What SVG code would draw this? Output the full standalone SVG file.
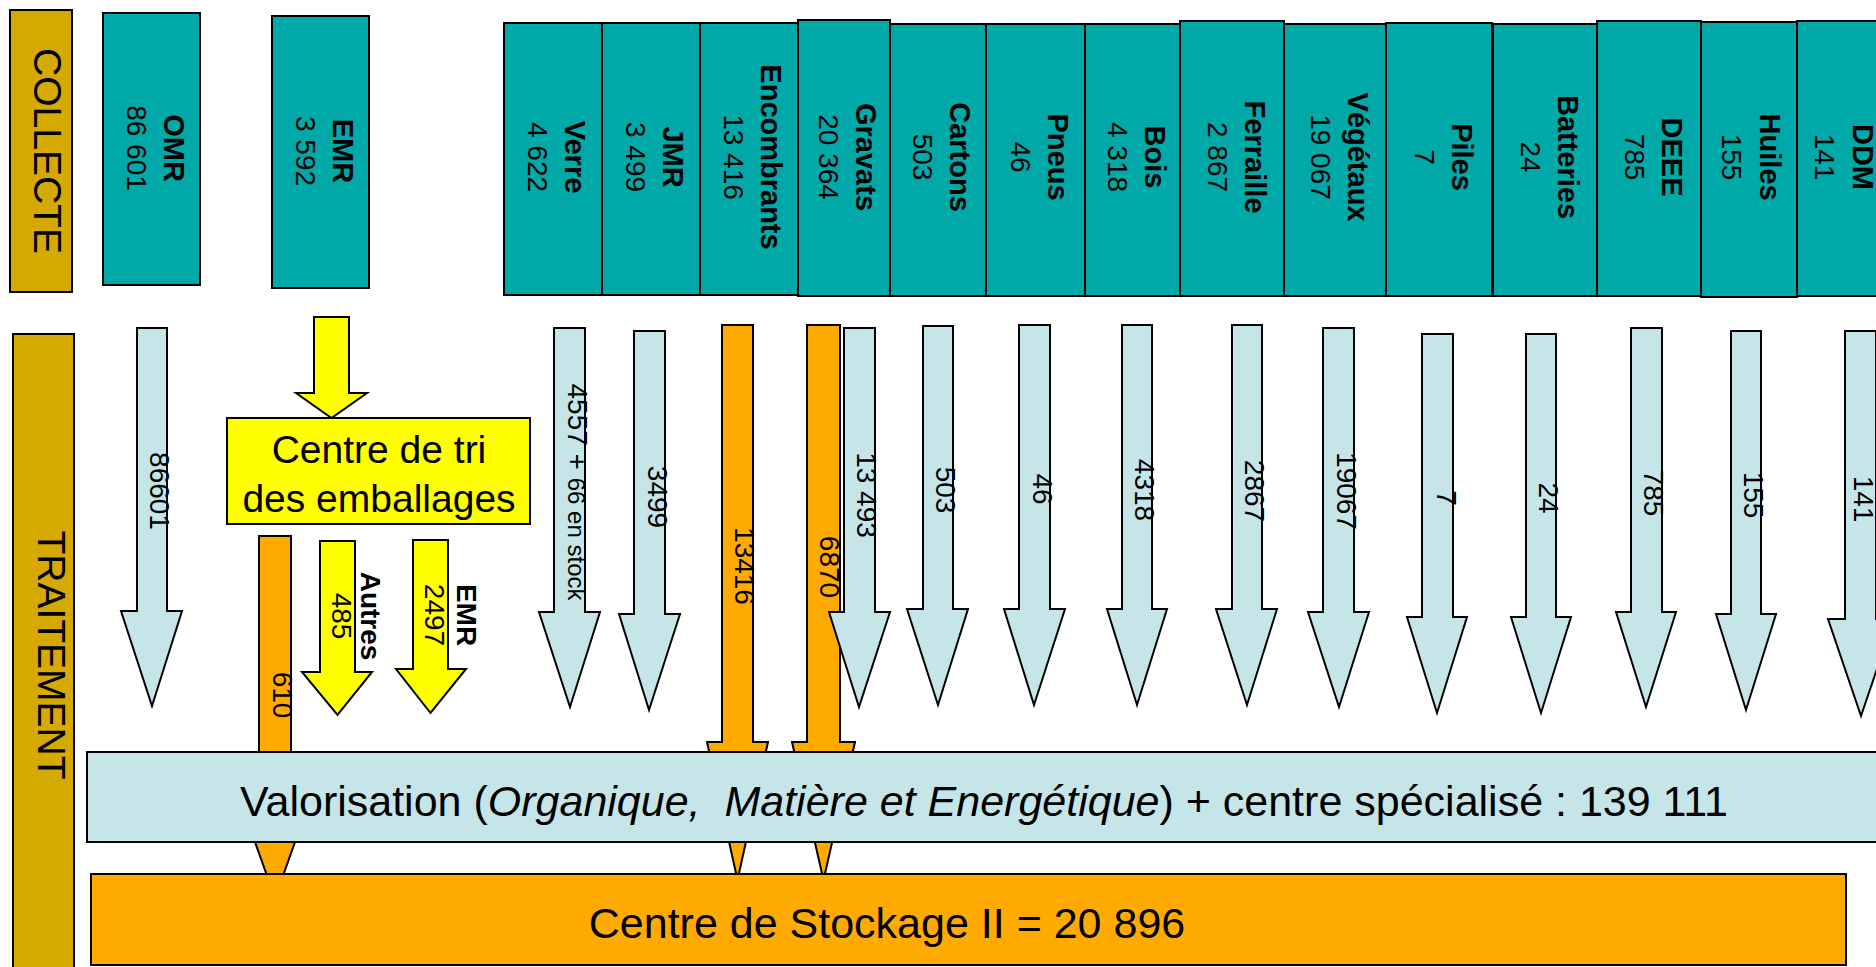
<svg xmlns="http://www.w3.org/2000/svg" width="1876" height="967" viewBox="0 0 1876 967">
<style>
text{font-family:"Liberation Sans",Arial,sans-serif;fill:#000}
.sec{fill:#D6A900;stroke:#000;stroke-width:2}
.col{fill:#00A8A8;stroke:#000;stroke-width:2}
.lb{fill:#C6E5E8;stroke:#000;stroke-width:2}
.or{fill:#FFAA00;stroke:#000;stroke-width:2}
.ye{fill:#FFFF00;stroke:#000;stroke-width:2}
.big{font-size:39px}
.lab{font-size:29px;font-weight:bold}
.val{font-size:28px}
.al{font-size:28px}
.alb{font-size:28px;font-weight:bold}
.main{font-size:43px;white-space:pre}
</style>
<rect width="1876" height="967" fill="#fff"/>

<g id="collecte">
<rect class="sec" x="10" y="10" width="62" height="282"/>
<text class="big" text-anchor="middle" transform="translate(34,151) rotate(90)">COLLECTE</text>
</g>
<g id="traitement">
<rect class="sec" x="13" y="334" width="61" height="640"/>
<text class="big" text-anchor="middle" transform="translate(38,655) rotate(90)">TRAITEMENT</text>
</g>

<g id="c-omr"><rect class="col" x="103" y="13" width="97" height="272"/>
<text class="lab" text-anchor="middle" transform="translate(164,148) rotate(90)">OMR</text>
<text class="val" text-anchor="middle" transform="translate(127,148) rotate(90)">86 601</text></g>
<g id="c-emr"><rect class="col" x="272" y="16" width="97" height="272"/>
<text class="lab" text-anchor="middle" transform="translate(333,151) rotate(90)">EMR</text>
<text class="val" text-anchor="middle" transform="translate(296,151) rotate(90)">3 592</text></g>
<g id="c-verre"><rect class="col" x="504" y="23" width="98" height="272"/>
<text class="lab" text-anchor="middle" transform="translate(565,157) rotate(90)">Verre</text>
<text class="val" text-anchor="middle" transform="translate(528,157) rotate(90)">4 622</text></g>
<g id="c-jmr"><rect class="col" x="602" y="23" width="98" height="272"/>
<text class="lab" text-anchor="middle" transform="translate(663,157) rotate(90)">JMR</text>
<text class="val" text-anchor="middle" transform="translate(626,157) rotate(90)">3 499</text></g>
<g id="c-encombrants"><rect class="col" x="700" y="23" width="98" height="272"/>
<text class="lab" text-anchor="middle" transform="translate(761,157) rotate(90)">Encombrants</text>
<text class="val" text-anchor="middle" transform="translate(724,157) rotate(90)">13 416</text></g>
<g id="c-gravats"><rect class="col" x="798" y="20" width="92" height="276"/>
<text class="lab" text-anchor="middle" transform="translate(856,157) rotate(90)">Gravats</text>
<text class="val" text-anchor="middle" transform="translate(819,157) rotate(90)">20 364</text></g>
<g id="c-cartons"><rect class="col" x="890" y="24" width="96" height="272"/>
<text class="lab" text-anchor="middle" transform="translate(950,157) rotate(90)">Cartons</text>
<text class="val" text-anchor="middle" transform="translate(913,157) rotate(90)">503</text></g>
<g id="c-pneus"><rect class="col" x="986" y="24" width="99" height="272"/>
<text class="lab" text-anchor="middle" transform="translate(1048,157) rotate(90)">Pneus</text>
<text class="val" text-anchor="middle" transform="translate(1011,157) rotate(90)">46</text></g>
<g id="c-bois"><rect class="col" x="1085" y="24" width="95" height="272"/>
<text class="lab" text-anchor="middle" transform="translate(1145,157) rotate(90)">Bois</text>
<text class="val" text-anchor="middle" transform="translate(1108,157) rotate(90)">4 318</text></g>
<g id="c-ferraille"><rect class="col" x="1180" y="21" width="104" height="275"/>
<text class="lab" text-anchor="middle" transform="translate(1245,157) rotate(90)">Ferraille</text>
<text class="val" text-anchor="middle" transform="translate(1208,157) rotate(90)">2 867</text></g>
<g id="c-vegetaux"><rect class="col" x="1284" y="24" width="102" height="272"/>
<text class="lab" text-anchor="middle" transform="translate(1348,157) rotate(90)">Végétaux</text>
<text class="val" text-anchor="middle" transform="translate(1311,157) rotate(90)">19 067</text></g>
<g id="c-piles"><rect class="col" x="1386" y="23" width="106" height="273"/>
<text class="lab" text-anchor="middle" transform="translate(1452,157) rotate(90)">Piles</text>
<text class="val" text-anchor="middle" transform="translate(1415,157) rotate(90)">7</text></g>
<g id="c-batteries"><rect class="col" x="1493" y="24" width="104" height="272"/>
<text class="lab" text-anchor="middle" transform="translate(1558,157) rotate(90)">Batteries</text>
<text class="val" text-anchor="middle" transform="translate(1521,157) rotate(90)">24</text></g>
<g id="c-deee"><rect class="col" x="1597" y="21" width="104" height="275"/>
<text class="lab" text-anchor="middle" transform="translate(1662,157) rotate(90)">DEEE</text>
<text class="val" text-anchor="middle" transform="translate(1625,157) rotate(90)">785</text></g>
<g id="c-huiles"><rect class="col" x="1701" y="22" width="96" height="275"/>
<text class="lab" text-anchor="middle" transform="translate(1760,157) rotate(90)">Huiles</text>
<text class="val" text-anchor="middle" transform="translate(1722,157) rotate(90)">155</text></g>
<g id="c-ddm"><rect class="col" x="1797" y="21" width="90" height="275"/>
<text class="lab" text-anchor="middle" transform="translate(1853,157) rotate(90)">DDM</text>
<text class="val" text-anchor="middle" transform="translate(1815,157) rotate(90)">141</text></g>

<g id="connectors">
<polygon class="or" points="259,536 291,536 291,814 305,814 275,898 245,814 259,814"/>
<polygon class="or" points="722,325 753,325 753,742 768,742 737.5,880 707,742 722,742"/>
<polygon class="or" points="807,325 840,325 840,742 855,742 823.5,880 792,742 807,742"/>
<polygon class="ye" points="314,317 349,317 349,393 367,393 331.5,418 296,393 314,393"/>
<polygon class="ye" points="320,541 355,541 355,672 372,672 337.5,715 302,672 320,672"/>
<polygon class="ye" points="413,540 448,540 448,669 466,669 430.5,713 396,669 413,669"/>
<polygon class="lb" points="137,328 167,328 167,611 182,611 152,706 121,611 137,611"/>
<polygon class="lb" points="554,328 585,328 585,612 600,612 570,707 539,612 554,612"/>
<polygon class="lb" points="634,331 665,331 665,614 680,614 649,710 619,614 634,614"/>
<polygon class="lb" points="844,328 875,328 875,612 890,612 859,707 829,612 844,612"/>
<polygon class="lb" points="923,326 953,326 953,609 968,609 938,705 907,609 923,609"/>
<polygon class="lb" points="1019,325 1050,325 1050,609 1065,609 1034,705 1004,609 1019,609"/>
<polygon class="lb" points="1122,325 1152,325 1152,609 1167,609 1137,705 1107,609 1122,609"/>
<polygon class="lb" points="1232,325 1262,325 1262,609 1277,609 1247,705 1216,609 1232,609"/>
<polygon class="lb" points="1323,328 1354,328 1354,612 1369,612 1339,707 1308,612 1323,612"/>
<polygon class="lb" points="1422,334 1453,334 1453,617 1467,617 1437,713 1407,617 1422,617"/>
<polygon class="lb" points="1526,334 1556,334 1556,617 1571,617 1541,713 1511,617 1526,617"/>
<polygon class="lb" points="1631,328 1662,328 1662,612 1676,612 1646,707 1616,612 1631,612"/>
<polygon class="lb" points="1731,331 1761,331 1761,614 1776,614 1746,710 1716,614 1731,614"/>
<polygon class="lb" points="1845,331 1876,331 1876,619 1894,619 1861,716 1828,619 1845,619"/>
<text class="al" text-anchor="middle" transform="translate(150,491) rotate(90)">86601</text>
<text class="al" text-anchor="middle" transform="translate(568,492) rotate(90)">4557 + <tspan font-size="24">66 en stock</tspan></text>
<text class="al" text-anchor="middle" transform="translate(648,497) rotate(90)">3499</text>
<text class="al" text-anchor="middle" transform="translate(735,566) rotate(90)">13416</text>
<text class="al" text-anchor="middle" transform="translate(820,567) rotate(90)">6870</text>
<text class="al" text-anchor="middle" transform="translate(857,495) rotate(90)">13 493</text>
<text class="al" text-anchor="middle" transform="translate(936,490) rotate(90)">503</text>
<text class="al" text-anchor="middle" transform="translate(1033,489) rotate(90)">46</text>
<text class="al" text-anchor="middle" transform="translate(1135,490) rotate(90)">4318</text>
<text class="al" text-anchor="middle" transform="translate(1245,491) rotate(90)">2867</text>
<text class="al" text-anchor="middle" transform="translate(1337,491) rotate(90)">19067</text>
<text class="al" text-anchor="middle" transform="translate(1437,498) rotate(90)">7</text>
<text class="al" text-anchor="middle" transform="translate(1539,498) rotate(90)">24</text>
<text class="al" text-anchor="middle" transform="translate(1644,493) rotate(90)">785</text>
<text class="al" text-anchor="middle" transform="translate(1744,495) rotate(90)">155</text>
<text class="al" text-anchor="middle" transform="translate(1854,499) rotate(90)">141</text>
<text class="al" text-anchor="middle" transform="translate(273,695) rotate(90)">610</text>
<text class="alb" text-anchor="middle" transform="translate(361,616) rotate(90)">Autres</text>
<text class="al" text-anchor="middle" transform="translate(332,616) rotate(90)">485</text>
<text class="alb" text-anchor="middle" transform="translate(457,615) rotate(90)">EMR</text>
<text class="al" text-anchor="middle" transform="translate(425,615) rotate(90)">2497</text>
</g>

<g id="centre-tri">
<rect class="ye" x="227" y="418" width="303" height="106"/>
<text class="big" text-anchor="middle" x="379" y="463">Centre de tri</text>
<text class="big" text-anchor="middle" x="379" y="512">des emballages</text>
</g>

<g id="valorisation">
<rect class="lb" x="87" y="752" width="1800" height="90"/>
<text class="main" text-anchor="middle" x="984" y="816">Valorisation (<tspan font-style="italic">Organique,  Matière et Energétique</tspan>) + centre spécialisé : 139 111</text>
</g>

<g id="stockage">
<rect class="or" x="91" y="874" width="1755" height="91"/>
<text class="main" text-anchor="middle" x="887" y="938">Centre de Stockage II = 20 896</text>
</g>
</svg>
